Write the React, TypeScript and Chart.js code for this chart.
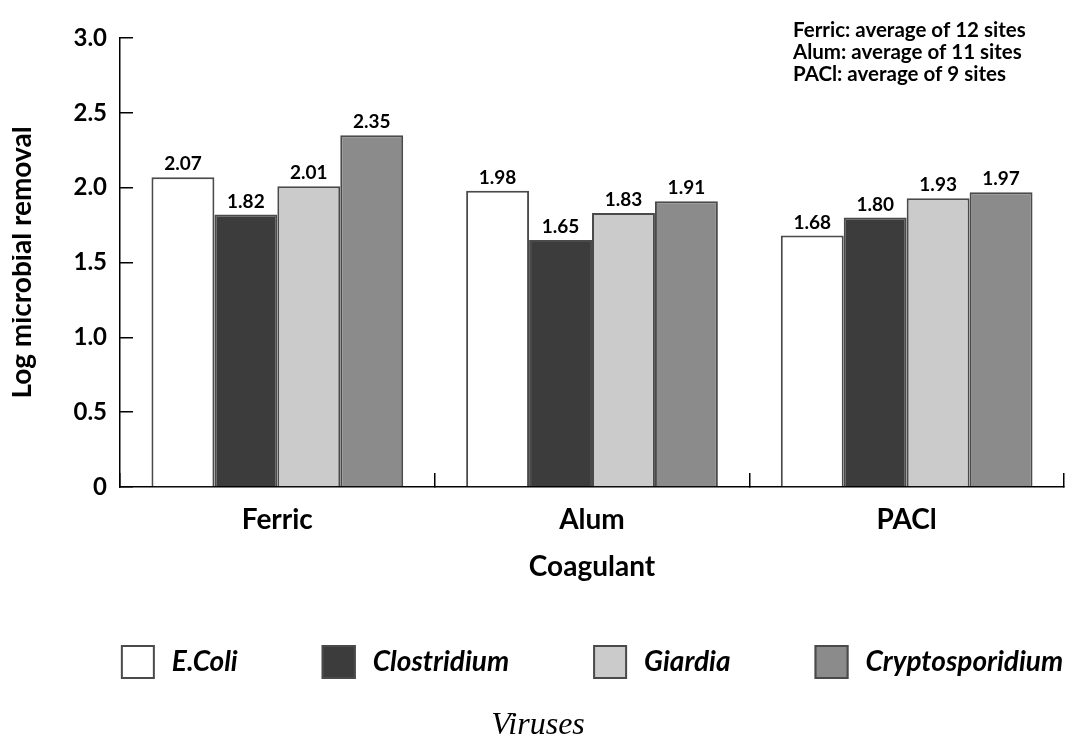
import React, { useEffect, useRef } from "react";
import { Chart, registerables } from "chart.js";

Chart.register(...registerables);

const categories = ["Ferric", "Alum", "PACl"];
const seriesNames = ["E.Coli", "Clostridium", "Giardia", "Cryptosporidium"];
const eColi = [2.07, 1.98, 1.68];
const clostridium = [1.82, 1.65, 1.8];
const giardia = [2.01, 1.83, 1.93];
const cryptosporidium = [2.35, 1.91, 1.97];
const seriesColors = ["#ffffff", "#3c3c3c", "#cbcbcb", "#8b8b8b"];
const yMin = 0;
const yMax = 3;
const yStep = 0.5;
const notes = [
  "Ferric: average of 12 sites",
  "Alum: average of 11 sites",
  "PACl: average of 9 sites",
];
const xTitle = "Coagulant";
const yTitle = "Log microbial removal";
const caption = "Viruses";

const FONT = "Lato";
const BORDER = "#4a4a4a";

const valueLabels = {
  id: "valueLabels",
  afterDatasetsDraw(chart: any) {
    const ctx = chart.ctx;
    ctx.save();
    ctx.font = `bold 19px ${FONT}`;
    ctx.fillStyle = "#000";
    ctx.textAlign = "center";
    ctx.textBaseline = "alphabetic";
    chart.data.datasets.forEach((ds: any, i: number) => {
      const meta = chart.getDatasetMeta(i);
      meta.data.forEach((el: any, j: number) => {
        ctx.fillText(Number(ds.data[j]).toFixed(2), el.x, el.y - 7);
      });
    });
    ctx.restore();
  },
};

const notesPlugin = {
  id: "notes",
  afterDraw(chart: any) {
    const ctx = chart.ctx;
    ctx.save();
    ctx.font = `bold 20.5px ${FONT}`;
    ctx.fillStyle = "#000";
    ctx.textAlign = "left";
    ctx.textBaseline = "alphabetic";
    notes.forEach((t, i) => {
      ctx.fillText(t, 781, 37 + i * 22);
    });
    ctx.restore();
  },
};

// legend drawn from the datasets, laid out in one row under the axis
const legendRow = {
  id: "legendRow",
  afterDraw(chart: any) {
    const ctx = chart.ctx;
    const area = chart.chartArea;
    const box = 34;
    const gap = 17;
    const spacing = 84;
    ctx.save();
    ctx.font = `italic bold 28px ${FONT}`;
    const items = chart.data.datasets.map((ds: any) => ({
      label: ds.label,
      fill: ds.backgroundColor,
      stroke: ds.borderColor,
      w: box + gap + ctx.measureText(ds.label).width,
    }));
    const total = items.reduce((s: number, it: any) => s + it.w, 0) + spacing * (items.length - 1);
    let x = (area.left + area.right) / 2 - total / 2;
    const top = 645;
    ctx.textBaseline = "middle";
    ctx.textAlign = "left";
    items.forEach((it: any) => {
      ctx.fillStyle = it.fill;
      ctx.fillRect(x, top, box, box);
      ctx.lineWidth = 2;
      ctx.strokeStyle = it.stroke;
      ctx.strokeRect(x + 1, top + 1, box - 2, box - 2);
      ctx.fillStyle = "#000";
      ctx.fillText(it.label, x + box + gap, top + box / 2);
      x += it.w + spacing;
    });
    ctx.restore();
  },
};

export default function App() {
  const ref = useRef<HTMLCanvasElement>(null);
  useEffect(() => {
    const values = [eColi, clostridium, giardia, cryptosporidium];
    const chart = new Chart(ref.current!, {
      type: "bar",
      data: {
        labels: categories,
        datasets: seriesNames.map((name, i) => ({
          label: name,
          data: values[i],
          backgroundColor: seriesColors[i],
          borderColor: BORDER,
          borderWidth: 2,
          borderSkipped: "bottom",
          barPercentage: 1.0,
          categoryPercentage: 0.8,
        })),
      },
      options: {
        animation: false,
        responsive: false,
        maintainAspectRatio: false,
        devicePixelRatio: 1,
        color: "#000",
        layout: { padding: { top: 21, right: 7, bottom: 0, left: 0 } },
        plugins: {
          tooltip: { enabled: false },
          legend: { display: false },
          subtitle: {
            display: true,
            position: "bottom",
            text: caption,
            color: "#000",
            font: { family: "Liberation Serif", size: 32, style: "italic", weight: "normal", lineHeight: 1 },
            padding: { top: 151, bottom: -2 },
          },
        },
        scales: {
          x: {
            type: "category",
            offset: true,
            grid: {
              offset: true,
              drawOnChartArea: false,
              drawTicks: true,
              tickLength: -14,
              color: "#000",
              lineWidth: 1.5,
            },
            border: { display: true, color: "#000", width: 1.5 },
            ticks: {
              color: "#000",
              padding: 33,
              font: { family: FONT, size: 28, weight: "bold", lineHeight: 1 },
              maxRotation: 0,
            },
            title: {
              display: true,
              text: xTitle,
              color: "#000",
              font: { family: FONT, size: 28, weight: "bold", lineHeight: 1 },
              padding: { top: 0, bottom: -22 },
            },
            afterFit(scale: any) {
              scale.height = 72;
            },
          },
          y: {
            min: yMin,
            max: yMax,
            grid: {
              drawOnChartArea: false,
              drawTicks: true,
              tickLength: -13,
              color: "#000",
              lineWidth: 1.5,
            },
            border: { display: true, color: "#000", width: 1.5 },
            ticks: {
              stepSize: yStep,
              color: "#000",
              padding: 26,
              font: { family: FONT, size: 24, weight: "bold", lineHeight: 1 },
              callback: (v: any) => (Number(v) === 0 ? "0" : Number(v).toFixed(1)),
            },
            title: {
              display: true,
              text: yTitle,
              color: "#000",
              font: { family: FONT, size: 28, weight: "bold", lineHeight: 1 },
              padding: { top: -4, bottom: 0 },
            },
            afterFit(scale: any) {
              scale.width = 108;
            },
          },
        },
      },
      plugins: [valueLabels, notesPlugin, legendRow],
    } as any);
    return () => chart.destroy();
  }, []);
  return (
    <div style={{ position: "absolute", left: 12, top: 0, width: 1059, height: 740, background: "#fff" }}>
      <canvas ref={ref} width={1059} height={740} style={{ display: "block", width: 1059, height: 740 }} />
    </div>
  );
}
